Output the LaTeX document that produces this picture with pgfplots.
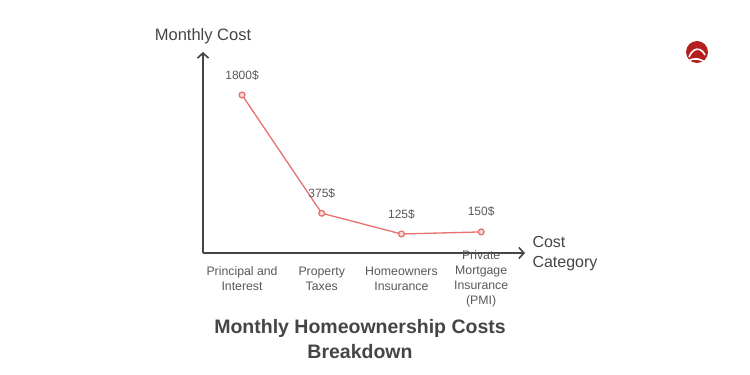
\documentclass[border=0pt]{standalone}
\usepackage{fontspec}
\setmainfont{Liberation Sans}
\usepackage{pgfplots}
\pgfplotsset{compat=1.18}
\usetikzlibrary{arrows.meta}
\definecolor{axisgray}{HTML}{454545}
\definecolor{linered}{HTML}{E8706F}
\definecolor{textgray}{HTML}{585858}
\definecolor{logored}{HTML}{B3201E}
\pgfplotstableread{
x y label
0 1800 1800
1 375 375
2 125 125
3 150 150
}\costs
\begin{document}
\begin{tikzpicture}[x=1pt,y=1pt]
\useasboundingbox (0,0) rectangle (750,375);
\begin{axis}[
  at={(203pt,122pt)}, anchor=south west,
  scale only axis, width=322pt, height=201pt,
  xmin=-0.49, xmax=3.55, ymin=-104, ymax=2318,
  axis lines=left,
  axis line style={draw=axisgray, line width=1.7pt, -{Straight Barb[length=5pt,width=11pt,line width=1.6pt]}},
  ytick=\empty,
  xtick={0,1,2,3},
  xticklabels={{Principal and\\Interest},{Property\\Taxes},{Homeowners\\Insurance},{Private\\Mortgage\\Insurance\\(PMI)}},
  major tick length=0pt,
  xticklabel style={anchor=center, align=center, yshift=-26pt, font=\fontsize{12.3}{15}\selectfont, text=textgray},
  clip=false,
  point meta=explicit symbolic,
  nodes near coords={\pgfplotspointmeta\$},
  every node near coord/.append style={anchor=center, yshift=20pt, font=\fontsize{12}{14}\selectfont, text=textgray},
]
\addplot[color=linered, line width=1.3pt, mark=*, mark size=2.9pt,
  mark options={draw=linered, fill=linered!25, line width=1.3pt}]
  table[x=x, y=y, meta=label] {\costs};
\end{axis}
\node[font=\fontsize{16.5}{19}\selectfont, text=axisgray] at (203,339) {Monthly Cost};
\node[font=\fontsize{16}{20}\selectfont, text=axisgray, anchor=west, align=left] at (529,121) {Cost\\Category};
\node[font=\bfseries\fontsize{19.5}{25}\selectfont, text=axisgray, align=center] at (360,35.5) {Monthly Homeownership Costs\\Breakdown};
% logo
\fill[logored] (697,323) circle (11);
\draw[white, line width=1.6pt] (689,318) .. controls (693,328) and (701,328) .. (705,320);
\draw[white, line width=1.6pt] (688,314) .. controls (695,318) and (701,316) .. (706,312);
\end{tikzpicture}
\end{document}
